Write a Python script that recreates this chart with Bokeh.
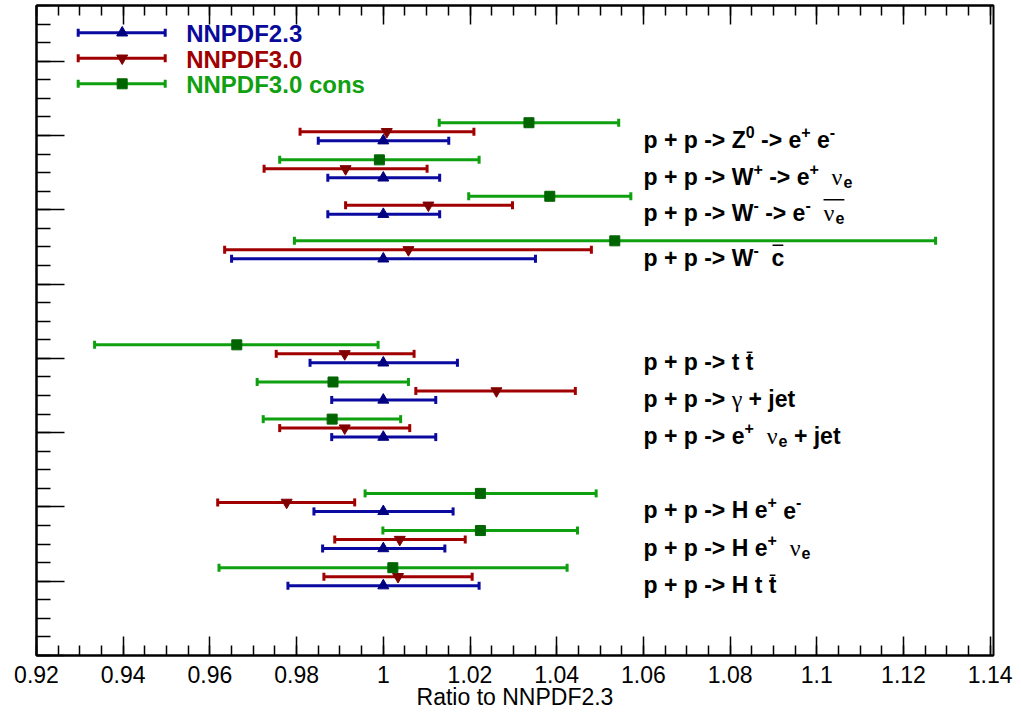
import numpy as np
from bokeh.plotting import figure
from bokeh.models import ColumnDataSource, FixedTicker, LinearAxis, CustomJSTickFormatter, Range1d
from bokeh.core.properties import value
from bokeh.embed import file_html
from bokeh.resources import INLINE

# ---------------- data ----------------
series_names = ["NNPDF2.3", "NNPDF3.0", "NNPDF3.0 cons"]

# process labels (TLatex-like tokens: b=bold text, sup/sub=scripts, g=greek, *bar=overlined)
process_tokens = [
    [("b", "p + p -> Z"), ("sup", "0"), ("b", " -> e"), ("sup", "+"), ("b", " e"), ("sup", "-")],
    [("b", "p + p -> W"), ("sup", "+"), ("b", " -> e"), ("sup", "+"), ("b", "  "), ("g", "ν"), ("sub", "e")],
    [("b", "p + p -> W"), ("sup", "-"), ("b", " -> e"), ("sup", "-"), ("b", "  "), ("gbar", "ν", "e")],
    [("b", "p + p -> W"), ("sup", "-"), ("b", "  "), ("bbar", "c")],
    [("b", "p + p -> t "), ("bbar", "t")],
    [("b", "p + p -> "), ("g", "γ"), ("b", " + jet")],
    [("b", "p + p -> e"), ("sup", "+"), ("b", "  "), ("g", "ν"), ("sub", "e"), ("b", " + jet")],
    [("b", "p + p -> H e"), ("sup", "+"), ("b", " e"), ("sup", "-")],
    [("b", "p + p -> H e"), ("sup", "+"), ("b", "  "), ("g", "ν"), ("sub", "e")],
    [("b", "p + p -> H t "), ("bbar", "t")],
]

nnpdf23_lo = [0.9850, 0.9872, 0.9872, 0.9650, 0.9831, 0.9881, 0.9881, 0.9840, 0.9860, 0.9780]
nnpdf23_c = [1.0, 1.0, 1.0, 1.0, 1.0, 1.0, 1.0, 1.0, 1.0, 1.0]
nnpdf23_hi = [1.0151, 1.0130, 1.0130, 1.0351, 1.0171, 1.0121, 1.0121, 1.0161, 1.0142, 1.0221]

nnpdf30_lo = [0.9808, 0.9725, 0.9913, 0.9634, 0.9753, 1.0075, 0.9761, 0.9618, 0.9888, 0.9863]
nnpdf30_c = [1.0008, 0.9913, 1.0104, 1.0058, 0.9911, 1.0261, 0.9911, 0.9777, 1.0038, 1.0034]
nnpdf30_hi = [1.0209, 1.0101, 1.0298, 1.0480, 1.0071, 1.0443, 1.0061, 0.9934, 1.0189, 1.0205]

cons_lo = [1.0129, 0.9761, 1.0197, 0.9795, 0.9334, 0.9709, 0.9723, 0.9958, 0.9999, 0.9621]
cons_c = [1.0336, 0.9991, 1.0384, 1.0534, 0.9662, 0.9884, 0.9882, 1.0224, 1.0224, 1.0022]
cons_hi = [1.0543, 1.0221, 1.0571, 1.1274, 0.9988, 1.0058, 1.0040, 1.0491, 1.0448, 1.0424]

x_tick_values = [0.92, 0.94, 0.96, 0.98, 1.0, 1.02, 1.04, 1.06, 1.08, 1.1, 1.12, 1.14]
x_tick_labels = ["0.92", "0.94", "0.96", "0.98", "1", "1.02", "1.04", "1.06", "1.08", "1.1", "1.12", "1.14"]
x_axis_title = "Ratio to NNPDF2.3"

# ---------------- layout / style ----------------
XMIN, XMAX = 0.92, 1.14076
YMIN, YMAX = 0.0, 8.75
FW, FH = 957, 650
PXX = FW / (XMAX - XMIN)
PXY = FH / (YMAX - YMIN)

row_base = [6.93, 6.43, 5.94, 5.34, 3.94, 3.44, 2.94, 1.94, 1.44, 0.94]
series_dy = [0.0, 0.121, 0.242]
line_colors = ["#0a0aa0", "#a00000", "#0ea00e"]
mark_colors = ["#000080", "#800000", "#006400"]
text_colors = ["#0a0a9a", "#a00000", "#10a010"]
markers = ["triangle", "inverted_triangle", "square"]
msizes = [11, 11, 10]

FONT = "Liberation Sans"
GFONT = "Liberation Serif"

p = figure(frame_width=FW, frame_height=FH,
           x_range=Range1d(XMIN, XMAX), y_range=Range1d(YMIN, YMAX),
           x_axis_type=None, y_axis_type=None,
           output_backend="svg", toolbar_location=None,
           min_border_left=36, min_border_right=27, min_border_top=5, min_border_bottom=0,
           background_fill_color="white", border_fill_color="white",
           outline_line_color="black", outline_line_width=2)


def style_axis(ax, tin, tmin):
    ax.axis_line_width = 2
    ax.axis_line_color = "black"
    ax.major_tick_line_width = 1.5
    ax.minor_tick_line_width = 1.5
    ax.major_tick_line_color = "black"
    ax.minor_tick_line_color = "black"
    ax.major_tick_out = 0
    ax.minor_tick_out = 0
    ax.major_tick_in = tin
    ax.minor_tick_in = tmin


minor_x = list(np.round(np.arange(XMIN, XMAX + 1e-9, 0.005), 4))
minor_y = list(np.arange(0.0, YMAX + 1e-9, 0.25))

fmt = CustomJSTickFormatter(args=dict(vals=x_tick_values, labs=x_tick_labels), code="""
for (let i = 0; i < vals.length; i++) { if (Math.abs(vals[i] - tick) < 1e-9) return labs[i]; }
return '';
""")

bottom = LinearAxis(ticker=FixedTicker(ticks=x_tick_values, minor_ticks=minor_x), formatter=fmt,
                    axis_label=x_axis_title)
style_axis(bottom, 19, 10)
bottom.major_label_text_font = FONT
bottom.major_label_text_font_size = "23px"
bottom.major_label_text_color = "black"
bottom.major_label_standoff = 10
bottom.axis_label_text_font = FONT
bottom.axis_label_text_font_size = "23px"
bottom.axis_label_text_font_style = "normal"
bottom.axis_label_text_color = "black"
bottom.axis_label_standoff = -2
p.add_layout(bottom, "below")

empty = CustomJSTickFormatter(code="return '';")
top = LinearAxis(ticker=FixedTicker(ticks=x_tick_values, minor_ticks=minor_x), formatter=empty)
style_axis(top, 19, 10)
top.major_label_text_font_size = "0px"
top.major_label_standoff = 0
p.add_layout(top, "above")

left = LinearAxis(ticker=FixedTicker(ticks=list(range(0, 9)), minor_ticks=minor_y), formatter=empty)
style_axis(left, 28, 14)
left.major_label_text_font_size = "0px"
left.major_label_standoff = 0
p.add_layout(left, "left")

# ---------------- error bars ----------------
series = [(nnpdf23_lo, nnpdf23_c, nnpdf23_hi),
          (nnpdf30_lo, nnpdf30_c, nnpdf30_hi),
          (cons_lo, cons_c, cons_hi)]

for k, (lo, c, hi) in enumerate(series):
    ys = [r + series_dy[k] for r in row_base]
    src = ColumnDataSource(dict(lo=lo, c=c, hi=hi, y=ys))
    p.segment(x0="lo", y0="y", x1="hi", y1="y", source=src, line_color=line_colors[k], line_width=3)
    p.scatter(x="lo", y="y", source=src, marker="dash", angle=np.pi / 2, size=8,
              line_color=line_colors[k], line_width=3)
    p.scatter(x="hi", y="y", source=src, marker="dash", angle=np.pi / 2, size=8,
              line_color=line_colors[k], line_width=3)
    p.scatter(x="c", y="y", source=src, marker=markers[k], size=msizes[k],
              fill_color=mark_colors[k], line_color=mark_colors[k], line_width=1)

# ---------------- legend (manual, ROOT style) ----------------
leg_py = [27.3, 52.7, 78.3]
leg_x0, leg_x1, leg_xm, leg_xt = 41.7, 128.7, 85.7, 149.7
for k in range(3):
    yl = YMAX - leg_py[k] / PXY
    x0 = XMIN + leg_x0 / PXX
    x1 = XMIN + leg_x1 / PXX
    xm = XMIN + leg_xm / PXX
    xt = XMIN + leg_xt / PXX
    p.segment(x0=[x0], y0=[yl], x1=[x1], y1=[yl], line_color=line_colors[k], line_width=3)
    p.scatter(x=[x0, x1], y=[yl, yl], marker="dash", angle=np.pi / 2, size=8,
              line_color=line_colors[k], line_width=3)
    p.scatter(x=[xm], y=[yl], marker=markers[k], size=msizes[k],
              fill_color=mark_colors[k], line_color=mark_colors[k])
    p.text(x=[xt], y=[yl], text=[series_names[k]], text_font=value(FONT), text_font_style="bold",
           text_font_size="24px", text_color=text_colors[k], text_baseline="middle", text_align="left",
           y_offset=1)

# ---------------- process labels ----------------
F, S = 23, 16
SUP_RAISE, SUB_DROP = 8, 5
BAR_UP = {"t": 15, "c": 18, "ν": 19}
BOLD_W = {' ': 0.278, '+': 0.584, '-': 0.333, '>': 0.584, '0': 0.556, 'p': 0.611, 'e': 0.556,
          'Z': 0.611, 'W': 0.944, 'H': 0.722, 't': 0.333, 'c': 0.556, 'j': 0.278}
GREEK_W = {'ν': 0.52, 'γ': 0.45}


def bw(s, size):
    return sum(BOLD_W[ch] for ch in s) * size


def layout_tokens(tokens):
    pieces, bars = [], []
    cur = 0.0
    for tok in tokens:
        kind = tok[0]
        if kind in ("b", "sup", "sub"):
            s = tok[1]
            size = F if kind == "b" else S
            lead = len(s) - len(s.lstrip(" "))
            txt = s.strip(" ")
            dy = {"b": 0, "sup": SUP_RAISE, "sub": -SUB_DROP}[kind]
            if txt:
                pieces.append((txt, cur + bw(" " * lead, size), dy, size, "b"))
            cur += bw(s, size)
        elif kind == "g":
            g = tok[1]
            pieces.append((g, cur, 0, F + 1, "g"))
            cur += GREEK_W[g] * F
        elif kind == "bbar":
            s = tok[1]
            w = bw(s, F)
            pieces.append((s, cur, 0, F, "b"))
            bars.append((cur + 1, w - 2, BAR_UP[s]))
            cur += w
        elif kind == "gbar":
            g, sub = tok[1], tok[2]
            wg = GREEK_W[g] * F
            ws = bw(sub, S)
            pieces.append((g, cur, 0, F + 1, "g"))
            pieces.append((sub, cur + wg, -SUB_DROP, S, "b"))
            bars.append((cur, wg + ws, BAR_UP[g]))
            cur += wg + ws
    return pieces, bars


LABEL_X = XMIN + 607.0 / PXX
LABEL_DROP = 4.5      # baseline below the NNPDF2.3 row (px)
TEXT_SHIFT = 5.5      # renderer draws alphabetic baseline this much lower (px)

bold_src = dict(x=[], y=[], text=[], xo=[], fs=[])
greek_src = dict(x=[], y=[], text=[], xo=[], fs=[])
bar_src = dict(x=[], y=[], w=[])
for i, toks in enumerate(process_tokens):
    base_y = row_base[i] - LABEL_DROP / PXY
    text_y = base_y + TEXT_SHIFT / PXY
    pieces, bars = layout_tokens(toks)
    for txt, xo, dy, size, kind in pieces:
        d = bold_src if kind == "b" else greek_src
        d["x"].append(LABEL_X)
        d["y"].append(text_y + dy / PXY)
        d["text"].append(txt)
        d["xo"].append(xo)
        d["fs"].append(f"{size}px")
    for xs, w, up in bars:
        bar_src["x"].append(LABEL_X + (xs + w / 2) / PXX)
        bar_src["y"].append(base_y + up / PXY)
        bar_src["w"].append(w)

p.text(x="x", y="y", text="text", x_offset="xo", text_font_size="fs", source=ColumnDataSource(bold_src),
       text_font=value(FONT), text_font_style="bold", text_color="black",
       text_baseline="alphabetic", text_align="left")
p.text(x="x", y="y", text="text", x_offset="xo", text_font_size="fs", source=ColumnDataSource(greek_src),
       text_font=value(GFONT), text_font_style="normal", text_color="black",
       text_baseline="alphabetic", text_align="left")
p.rect(x="x", y="y", width="w", height=1.5, width_units="screen", height_units="screen",
       source=ColumnDataSource(bar_src), fill_color="black", line_color=None)

open("out.html", "w").write(file_html(p, INLINE))
